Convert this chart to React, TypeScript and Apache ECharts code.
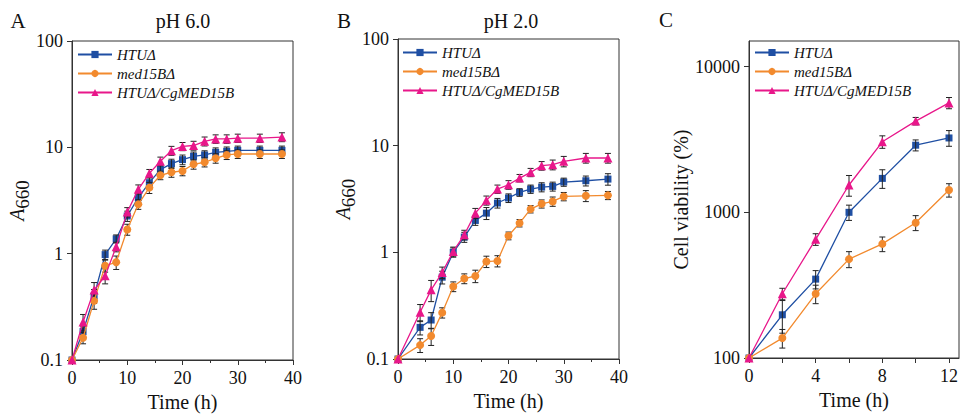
import React, { useEffect, useRef } from "react";
import * as echarts from "echarts";

const FONT = "'Liberation Serif', 'Times New Roman', serif";

const seriesNames = ["HTUΔ", "med15BΔ", "HTUΔ/CgMED15B"];
const colors = ["#1f4fa3", "#f28a2e", "#e8178a"];
const symbols = ["rect", "circle", "triangle"];
const symbolSizes = [7, 8, 9];

// Panel A: pH 6.0
const timeA = [0, 2, 4, 6, 8, 10, 12, 14, 16, 18, 20, 22, 24, 26, 28, 30, 34, 38];
const htuA = [0.1, 0.185, 0.4, 0.98, 1.38, 2.26, 3.36, 4.65, 6.18, 7.03, 7.66, 8.24, 8.48, 8.98, 9.17, 9.37, 9.37, 9.37];
const medA = [0.1, 0.162, 0.36, 0.77, 0.83, 1.69, 2.91, 4.18, 5.46, 5.83, 6.0, 6.93, 7.24, 7.89, 8.48, 8.66, 8.66, 8.66];
const cgA = [0.1, 0.228, 0.455, 0.62, 1.16, 2.46, 4.03, 5.69, 7.39, 9.31, 10.2, 10.4, 11.4, 12.0, 12.0, 12.2, 12.2, 12.5];
const htuAErr = [0, 0.02, 0.06, 0.1, 0.12, 0.25, 0.35, 0.5, 0.6, 0.7, 0.8, 0.8, 0.8, 0.9, 0.9, 0.9, 0.9, 0.9];
const medAErr = [0, 0.02, 0.06, 0.1, 0.12, 0.2, 0.3, 0.5, 0.5, 0.6, 0.6, 0.7, 0.7, 0.8, 0.8, 0.8, 0.8, 0.8];
const cgAErr = [0, 0.04, 0.08, 0.1, 0.12, 0.25, 0.4, 0.5, 0.7, 0.9, 0.9, 1.0, 1.1, 1.1, 1.1, 1.1, 1.1, 1.2];

// Panel B: pH 2.0
const timeB = [0, 4, 6, 8, 10, 12, 14, 16, 18, 20, 22, 24, 26, 28, 30, 34, 38];
const htuB = [0.1, 0.198, 0.232, 0.585, 1.0, 1.39, 1.99, 2.33, 2.9, 3.23, 3.65, 3.92, 4.09, 4.15, 4.56, 4.69, 4.86];
const medB = [0.1, 0.135, 0.164, 0.272, 0.478, 0.568, 0.6, 0.82, 0.83, 1.43, 1.88, 2.54, 2.85, 3.0, 3.34, 3.39, 3.42];
const cgB = [0.1, 0.274, 0.445, 0.647, 1.02, 1.46, 2.33, 3.07, 3.92, 4.3, 4.97, 5.62, 6.49, 6.63, 7.13, 7.66, 7.66];
const htuBErr = [0, 0.03, 0.04, 0.08, 0.1, 0.15, 0.2, 0.3, 0.3, 0.3, 0.3, 0.35, 0.4, 0.4, 0.4, 0.5, 0.6];
const medBErr = [0, 0.02, 0.03, 0.03, 0.05, 0.06, 0.08, 0.1, 0.1, 0.12, 0.15, 0.2, 0.25, 0.3, 0.3, 0.4, 0.3];
const cgBErr = [0, 0.05, 0.1, 0.08, 0.1, 0.15, 0.25, 0.3, 0.35, 0.4, 0.4, 0.5, 0.6, 0.7, 0.8, 0.8, 0.8];

// Panel C: cell viability
const timeC = [0, 2, 4, 6, 8, 10, 12];
const htuC = [100, 198, 348, 1000, 1710, 2890, 3240];
const medC = [100, 137, 276, 477, 607, 849, 1422];
const cgC = [100, 276, 653, 1540, 3050, 4230, 5640];
const htuCErr = [0, 50, 50, 120, 250, 250, 400];
const medCErr = [0, 20, 40, 60, 70, 100, 150];
const cgCErr = [0, 25, 60, 250, 300, 250, 500];

const panels = [
  { time: timeA, values: [htuA, medA, cgA], errors: [htuAErr, medAErr, cgAErr] },
  { time: timeB, values: [htuB, medB, cgB], errors: [htuBErr, medBErr, cgBErr] },
  { time: timeC, values: [htuC, medC, cgC], errors: [htuCErr, medCErr, cgCErr] },
];

function errorBarItem(params: any, api: any) {
  const x = api.value(0);
  const lo = api.value(2);
  const hi = api.value(3);
  if (!(hi > lo) || !(lo > 0)) return { type: "group", children: [] };
  const top = api.coord([x, hi]);
  const bot = api.coord([x, lo]);
  const w = 3;
  const style = { stroke: "#222", lineWidth: 1, fill: null };
  return {
    type: "group",
    children: [
      { type: "line", shape: { x1: top[0], y1: top[1], x2: bot[0], y2: bot[1] }, style },
      { type: "line", shape: { x1: top[0] - w, y1: top[1], x2: top[0] + w, y2: top[1] }, style },
      { type: "line", shape: { x1: bot[0] - w, y1: bot[1], x2: bot[0] + w, y2: bot[1] }, style },
    ],
  };
}

const axisLine = { show: true, lineStyle: { color: "#333", width: 1 } };
const axisLabelBase = { color: "#111", fontFamily: FONT, fontSize: 18, fontWeight: "normal" };
const nameStyle = { color: "#111", fontFamily: FONT, fontSize: 20, fontWeight: "normal" };

function isPow10(v: number) {
  const l = Math.log10(v);
  return Math.abs(l - Math.round(l)) < 1e-6;
}

export default function App() {
  const ref = useRef<HTMLDivElement>(null);
  useEffect(() => {
    if (!ref.current) return;
    const chart = echarts.init(ref.current, null, { renderer: "svg" });

    const grids = [
      { left: 72, top: 41, width: 221, height: 319 },
      { left: 398, top: 39, width: 221, height: 320 },
      { left: 749, top: 41, width: 214, height: 317 },
    ].map((g) => ({ ...g, show: true, borderColor: "#333", borderWidth: 1, containLabel: false }));

    const xAxes = [0, 1, 2].map((i) => {
      const isC = i === 2;
      return {
        type: "value",
        gridIndex: i,
        min: 0,
        max: isC ? 12.6 : 40,
        interval: isC ? 2 : 10,
        name: "Time (h)",
        nameLocation: "middle",
        nameGap: 31,
        nameTextStyle: nameStyle,
        axisLine,
        axisTick: { show: true, inside: false, length: 5, lineStyle: { color: "#333" } },
        minorTick: isC ? { show: false } : { show: true, splitNumber: 2, length: 3, lineStyle: { color: "#333" } },
        splitLine: { show: false },
        axisLabel: {
          ...axisLabelBase,
          margin: 9,
          showMaxLabel: !isC,
          formatter: (v: number) => (isC ? (v % 4 === 0 ? String(v) : "") : String(v)),
        },
      };
    });

    const yAxes = [0, 1, 2].map((i) => {
      const isC = i === 2;
      return {
        type: "log",
        logBase: 10,
        gridIndex: i,
        min: isC ? 100 : 0.1,
        max: isC ? 15000 : 100,
        name: isC ? "Cell viability (%)" : "{a|A}{b|660}",
        nameLocation: "middle",
        nameGap: isC ? 57 : 37,
        nameRotate: 90,
        nameTextStyle: isC
          ? nameStyle
          : {
              ...nameStyle,
              rich: {
                a: { fontFamily: FONT, fontSize: 20, fontStyle: "italic", fontWeight: "normal", color: "#111", verticalAlign: "top" },
                b: { fontFamily: FONT, fontSize: 19, fontWeight: "normal", color: "#111", verticalAlign: "bottom", padding: [6, 0, 0, 0] },
              },
            },
        axisLine,
        axisTick: { show: true, inside: false, length: 5, lineStyle: { color: "#333" } },
        splitLine: { show: false },
        axisLabel: {
          ...axisLabelBase,
          margin: 9,
          showMaxLabel: !isC,
          formatter: (v: number) => (isPow10(v) ? String(Number(v.toPrecision(6))) : ""),
        },
      };
    });

    const series: any[] = [];
    panels.forEach((p, pi) => {
      p.values.forEach((vals, si) => {
        series.push({
          type: "custom",
          xAxisIndex: pi,
          yAxisIndex: pi,
          renderItem: errorBarItem,
          encode: { x: 0, y: [1, 2, 3] },
          data: p.time.map((t, k) => [t, vals[k], vals[k] - p.errors[si][k], vals[k] + p.errors[si][k]]),
          z: 3,
          silent: true,
        });
      });
      p.values.forEach((vals, si) => {
        series.push({
          type: "line",
          name: seriesNames[si],
          xAxisIndex: pi,
          yAxisIndex: pi,
          data: p.time.map((t, k) => [t, vals[k]]),
          symbol: symbols[si],
          symbolSize: symbolSizes[si],
          showAllSymbol: true,
          color: colors[si],
          lineStyle: { color: colors[si], width: 1.3 },
          itemStyle: { color: colors[si] },
          z: 2 + si,
        });
      });
    });

    const legendPos = [
      { left: 77, top: 47 },
      { left: 402, top: 45 },
      { left: 754, top: 45 },
    ];
    const legend = legendPos.map((lp) => ({
      ...lp,
      orient: "vertical",
      padding: 0,
      data: seriesNames,
      itemWidth: 34,
      itemHeight: 9,
      itemGap: 4,
      selectedMode: false,
      textStyle: { fontFamily: FONT, fontSize: 15, fontStyle: "italic", fontWeight: "normal", color: "#111" },
    }));

    const txt = (text: string, x: number, y: number, size: number) => ({
      type: "text",
      x,
      y,
      style: { text, fontFamily: FONT, fontSize: size, fontWeight: "normal", fill: "#111", align: "center", verticalAlign: "middle" },
    });

    chart.setOption({
      animation: false,
      backgroundColor: "#fff",
      grid: grids,
      xAxis: xAxes,
      yAxis: yAxes,
      legend,
      series,
      graphic: [
        txt("A", 18, 21, 21),
        txt("pH 6.0", 183, 21, 20),
        txt("B", 344, 21, 21),
        txt("pH 2.0", 511, 21, 20),
        txt("C", 666, 20, 21),
      ],
    });
    return () => chart.dispose();
  }, []);
  return <div ref={ref} style={{ position: "fixed", left: 0, top: 0, width: 961, height: 417 }} />;
}
